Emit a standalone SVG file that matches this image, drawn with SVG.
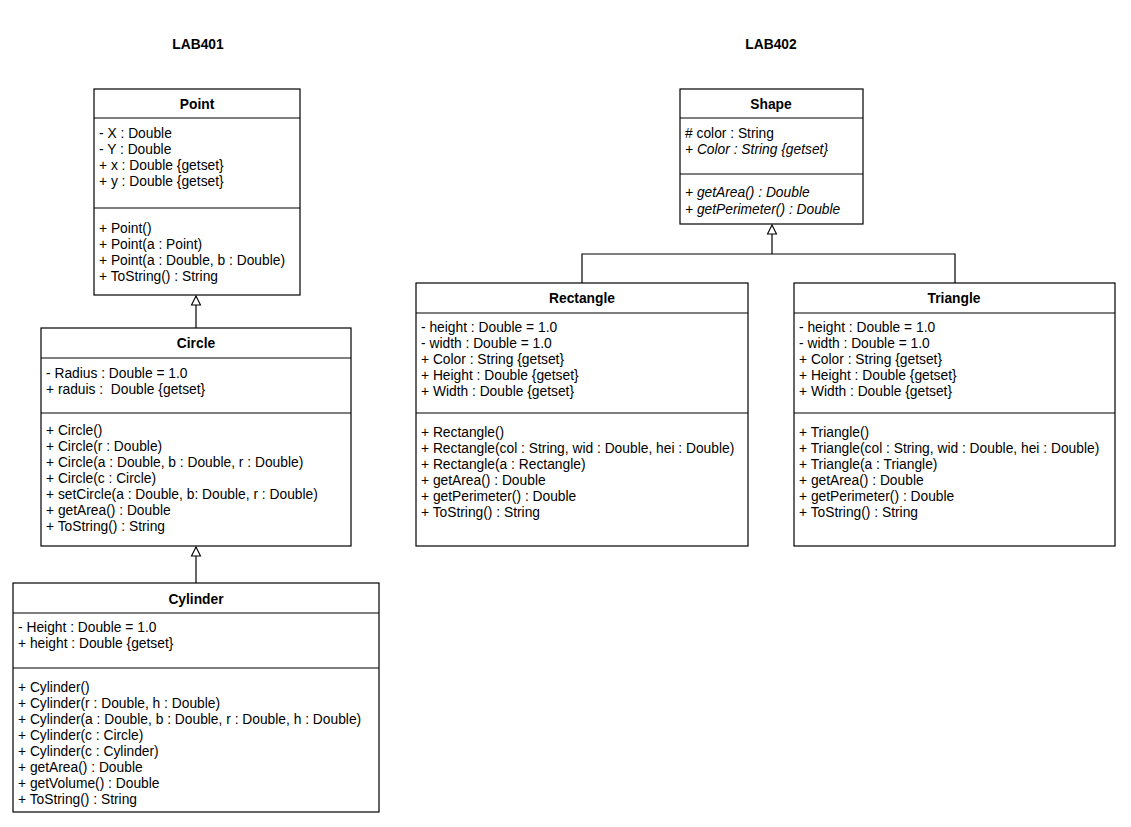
<svg xmlns="http://www.w3.org/2000/svg" width="1131" height="827" viewBox="0 0 1131 827">
<defs>
<style>
.box{fill:#fff;stroke:#000;stroke-width:1.2}
.sep{stroke:#000;stroke-width:1.2}
.t{font-family:"Liberation Sans",Arial,sans-serif;font-size:13.8px;fill:#000}
.h{font-family:"Liberation Sans",Arial,sans-serif;font-size:13.8px;font-weight:bold;fill:#000;text-anchor:middle}
.i{font-style:italic}
.c{fill:none;stroke:#000;stroke-width:1.2}
</style>
<marker id="gen" markerWidth="12" markerHeight="12" refX="11" refY="6" orient="auto" markerUnits="userSpaceOnUse" viewBox="0 0 12 12">
<path d="M11,6 L2,1.5 L2,10.5 Z" fill="#fff" stroke="#000" stroke-width="1.1"/>
</marker>
</defs>
<rect width="1131" height="827" fill="#fff"/>
<text class="h" x="198" y="49">LAB401</text>
<text class="h" x="771" y="49">LAB402</text>

<g id="connectors">
<path class="c" d="M196,328 L196,296" marker-end="url(#gen)"/>
<path class="c" d="M196,583 L196,547" marker-end="url(#gen)"/>
<path class="c" d="M582,283 L582,254 L955,254 L955,283"/>
<path class="c" d="M772,254 L772,225" marker-end="url(#gen)"/>
</g>

<g id="Point">
<rect class="box" x="94" y="89" width="206" height="206"/>
<line class="sep" x1="94" y1="118" x2="300" y2="118"/>
<line class="sep" x1="94" y1="208" x2="300" y2="208"/>
<text class="h" x="197" y="109">Point</text>
<text class="t" x="99" y="138">- X : Double</text>
<text class="t" x="99" y="154">- Y : Double</text>
<text class="t" x="99" y="170">+ x : Double {getset}</text>
<text class="t" x="99" y="186">+ y : Double {getset}</text>
<text class="t" x="99" y="233">+ Point()</text>
<text class="t" x="99" y="249">+ Point(a : Point)</text>
<text class="t" x="99" y="265">+ Point(a : Double, b : Double)</text>
<text class="t" x="99" y="281">+ ToString() : String</text>
</g>

<g id="Circle">
<rect class="box" x="41" y="328" width="310" height="218"/>
<line class="sep" x1="41" y1="358" x2="351" y2="358"/>
<line class="sep" x1="41" y1="413" x2="351" y2="413"/>
<text class="h" x="196" y="348">Circle</text>
<text class="t" x="46" y="378">- Radius : Double = 1.0</text>
<text class="t" x="46" y="394" xml:space="preserve">+ raduis :  Double {getset}</text>
<text class="t" x="46" y="435">+ Circle()</text>
<text class="t" x="46" y="451">+ Circle(r : Double)</text>
<text class="t" x="46" y="467">+ Circle(a : Double, b : Double, r : Double)</text>
<text class="t" x="46" y="483">+ Circle(c : Circle)</text>
<text class="t" x="46" y="499">+ setCircle(a : Double, b: Double, r : Double)</text>
<text class="t" x="46" y="515">+ getArea() : Double</text>
<text class="t" x="46" y="531">+ ToString() : String</text>
</g>

<g id="Cylinder">
<rect class="box" x="13" y="583" width="366" height="229"/>
<line class="sep" x1="13" y1="613" x2="379" y2="613"/>
<line class="sep" x1="13" y1="668" x2="379" y2="668"/>
<text class="h" x="196" y="604">Cylinder</text>
<text class="t" x="18" y="632">- Height : Double = 1.0</text>
<text class="t" x="18" y="648">+ height : Double {getset}</text>
<text class="t" x="18" y="692">+ Cylinder()</text>
<text class="t" x="18" y="708">+ Cylinder(r : Double, h : Double)</text>
<text class="t" x="18" y="724">+ Cylinder(a : Double, b : Double, r : Double, h : Double)</text>
<text class="t" x="18" y="740">+ Cylinder(c : Circle)</text>
<text class="t" x="18" y="756">+ Cylinder(c : Cylinder)</text>
<text class="t" x="18" y="772">+ getArea() : Double</text>
<text class="t" x="18" y="788">+ getVolume() : Double</text>
<text class="t" x="18" y="804">+ ToString() : String</text>
</g>

<g id="Shape">
<rect class="box" x="680" y="89" width="183" height="135"/>
<line class="sep" x1="680" y1="118" x2="863" y2="118"/>
<line class="sep" x1="680" y1="174" x2="863" y2="174"/>
<text class="h" x="771" y="109">Shape</text>
<text class="t" x="685" y="138"># color : String</text>
<text class="t i" x="685" y="154">+ Color : String {getset}</text>
<text class="t i" x="685" y="197">+ getArea() : Double</text>
<text class="t i" x="685" y="214">+ getPerimeter() : Double</text>
</g>

<g id="Rectangle">
<rect class="box" x="416" y="283" width="332" height="263"/>
<line class="sep" x1="416" y1="313" x2="748" y2="313"/>
<line class="sep" x1="416" y1="413" x2="748" y2="413"/>
<text class="h" x="582" y="303">Rectangle</text>
<text class="t" x="421" y="332">- height : Double = 1.0</text>
<text class="t" x="421" y="348">- width : Double = 1.0</text>
<text class="t" x="421" y="364">+ Color : String {getset}</text>
<text class="t" x="421" y="380">+ Height : Double {getset}</text>
<text class="t" x="421" y="396">+ Width : Double {getset}</text>
<text class="t" x="421" y="437">+ Rectangle()</text>
<text class="t" x="421" y="453">+ Rectangle(col : String, wid : Double, hei : Double)</text>
<text class="t" x="421" y="469">+ Rectangle(a : Rectangle)</text>
<text class="t" x="421" y="485">+ getArea() : Double</text>
<text class="t" x="421" y="501">+ getPerimeter() : Double</text>
<text class="t" x="421" y="517">+ ToString() : String</text>
</g>

<g id="Triangle">
<rect class="box" x="794" y="283" width="321" height="263"/>
<line class="sep" x1="794" y1="313" x2="1115" y2="313"/>
<line class="sep" x1="794" y1="413" x2="1115" y2="413"/>
<text class="h" x="954" y="303">Triangle</text>
<text class="t" x="799" y="332">- height : Double = 1.0</text>
<text class="t" x="799" y="348">- width : Double = 1.0</text>
<text class="t" x="799" y="364">+ Color : String {getset}</text>
<text class="t" x="799" y="380">+ Height : Double {getset}</text>
<text class="t" x="799" y="396">+ Width : Double {getset}</text>
<text class="t" x="799" y="437">+ Triangle()</text>
<text class="t" x="799" y="453">+ Triangle(col : String, wid : Double, hei : Double)</text>
<text class="t" x="799" y="469">+ Triangle(a : Triangle)</text>
<text class="t" x="799" y="485">+ getArea() : Double</text>
<text class="t" x="799" y="501">+ getPerimeter() : Double</text>
<text class="t" x="799" y="517">+ ToString() : String</text>
</g>
</svg>
